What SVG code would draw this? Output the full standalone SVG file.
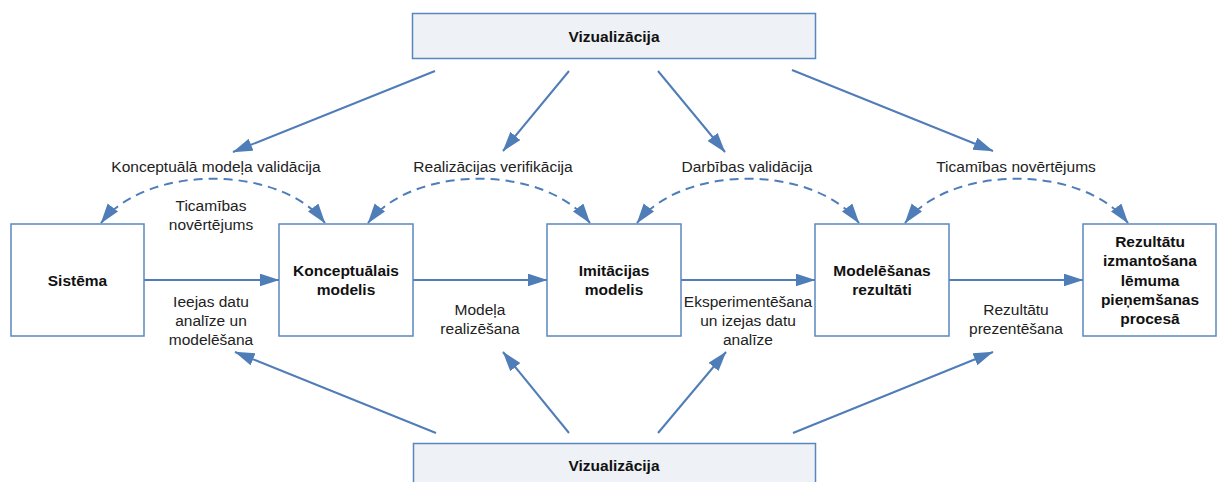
<svg xmlns="http://www.w3.org/2000/svg" width="1217" height="482" viewBox="0 0 1217 482">
<style>
.box{fill:#ffffff;stroke:#5a86bf;stroke-width:1.5}
.vbox{fill:#eef1f6;stroke:#5a86bf;stroke-width:1.5}
.b{font-family:"Liberation Sans",Arial,sans-serif;font-size:15.5px;font-weight:bold;fill:#111;text-anchor:middle}
.t{font-family:"Liberation Sans",Arial,sans-serif;font-size:15.5px;fill:#222;text-anchor:middle}
.ln{fill:none;stroke:#4f7db8;stroke-width:2;marker-end:url(#ah)}
.ds{fill:none;stroke:#4f7db8;stroke-width:2;stroke-dasharray:9 6;marker-start:url(#ah);marker-end:url(#ah)}
</style>
<defs>
<marker id="ah" markerUnits="userSpaceOnUse" markerWidth="22" markerHeight="14" refX="19.5" refY="6.5" orient="auto-start-reverse">
<path d="M0,0 L20,6.5 L0,13 z" fill="#4f7db8"/>
</marker>
</defs>
<g id="connectors">
<line class="ln" x1="144" y1="280" x2="279" y2="280"/>
<line class="ln" x1="413" y1="280" x2="547" y2="280"/>
<line class="ln" x1="681" y1="280" x2="815" y2="280"/>
<line class="ln" x1="949" y1="280" x2="1083" y2="280"/>
<line class="ln" x1="435" y1="71" x2="233" y2="152"/>
<line class="ln" x1="569" y1="71" x2="503" y2="151"/>
<line class="ln" x1="658" y1="71" x2="725" y2="152"/>
<line class="ln" x1="792" y1="70" x2="993" y2="151"/>
<line class="ln" x1="436" y1="433" x2="235" y2="352"/>
<line class="ln" x1="569" y1="433" x2="503" y2="352"/>
<line class="ln" x1="658" y1="433" x2="726" y2="352"/>
<line class="ln" x1="793" y1="433" x2="993" y2="352"/>
<path class="ds" d="M101,223 C146,164 280,164 325,223"/>
<path class="ds" d="M368,223 C413,164 545,164 590,223"/>
<path class="ds" d="M637,223 C682,164 814,164 859,223"/>
<path class="ds" d="M905,223 C950,164 1083,164 1128,223"/>
</g>
<g id="labels">
<text class="t" x="216" y="171.5">Konceptuālā modeļa validācija</text>
<text class="t" x="493" y="171.5">Realizācijas verifikācija</text>
<text class="t" x="747" y="171.5">Darbības validācija</text>
<text class="t" x="1016" y="171.5">Ticamības novērtējums</text>
<text class="t" x="211" y="211">Ticamības</text>
<text class="t" x="211" y="230">novērtējums</text>
<text class="t" x="211" y="306.5">Ieejas datu</text>
<text class="t" x="211" y="325.5">analīze un</text>
<text class="t" x="211" y="344.5">modelēšana</text>
<text class="t" x="480" y="315">Modeļa</text>
<text class="t" x="480" y="334">realizēšana</text>
<text class="t" x="748" y="306.5">Eksperimentēšana</text>
<text class="t" x="748" y="325.5">un izejas datu</text>
<text class="t" x="748" y="344.5">analīze</text>
<text class="t" x="1016" y="315">Rezultātu</text>
<text class="t" x="1016" y="334">prezentēšana</text>
</g>
<g id="viz-top">
<rect class="vbox" x="412.5" y="13.5" width="403" height="45"/>
<text class="b" x="614" y="41.5">Vizualizācija</text>
</g>
<g id="viz-bottom">
<rect class="vbox" x="413.5" y="443.5" width="402" height="45"/>
<text class="b" x="614" y="470.5">Vizualizācija</text>
</g>
<g id="sistema">
<rect class="box" x="11" y="224" width="133" height="112"/>
<text class="b" x="77.5" y="285.5">Sistēma</text>
</g>
<g id="konceptualais">
<rect class="box" x="279" y="224" width="134" height="112"/>
<text class="b" x="346" y="276">Konceptuālais</text>
<text class="b" x="346" y="295">modelis</text>
</g>
<g id="imitacijas">
<rect class="box" x="547" y="224" width="134" height="112"/>
<text class="b" x="614" y="276">Imitācijas</text>
<text class="b" x="614" y="295">modelis</text>
</g>
<g id="rezultati">
<rect class="box" x="815" y="224" width="134" height="112"/>
<text class="b" x="882" y="276">Modelēšanas</text>
<text class="b" x="882" y="295">rezultāti</text>
</g>
<g id="izmantosana">
<rect class="box" x="1083" y="224" width="133" height="112"/>
<text class="b" x="1150" y="247">Rezultātu</text>
<text class="b" x="1150" y="266">izmantošana</text>
<text class="b" x="1150" y="285.5">lēmuma</text>
<text class="b" x="1150" y="305">pieņemšanas</text>
<text class="b" x="1150" y="324">procesā</text>
</g>
</svg>
